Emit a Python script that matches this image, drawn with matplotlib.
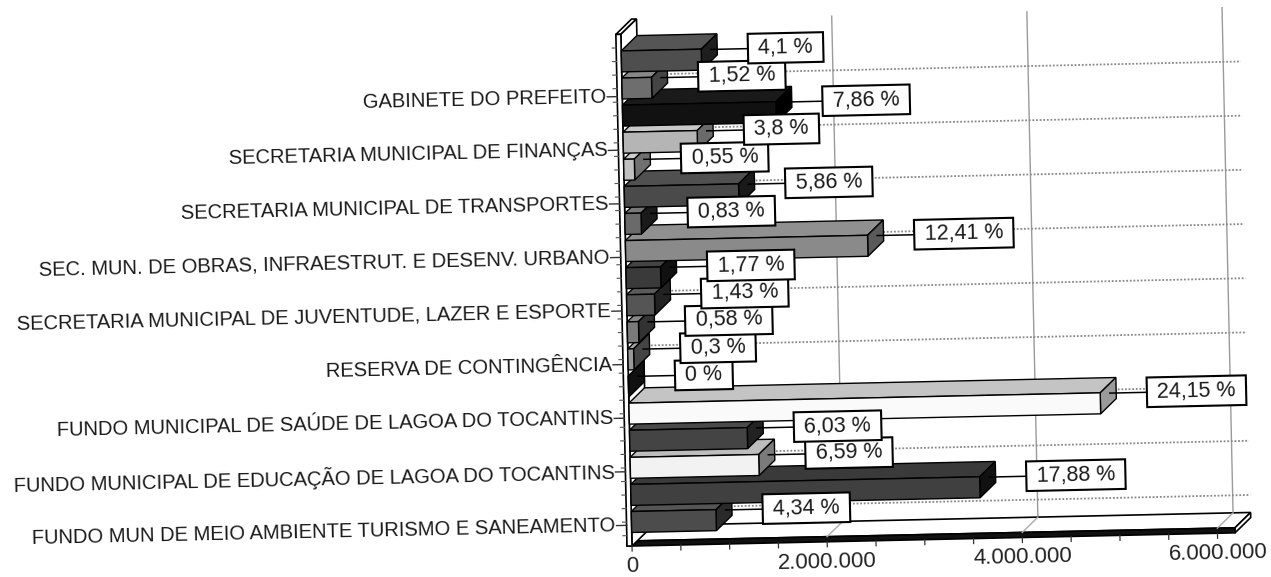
import numpy as np
import matplotlib.pyplot as plt
from matplotlib.patches import Polygon
from matplotlib.transforms import Affine2D

plt.rcParams['font.family'] = ['Liberation Sans', 'DejaVu Sans']

# bars listed top to bottom, as in the picture
pct_labels = ['4,1 %', '1,52 %', '7,86 %', '3,8 %', '0,55 %', '5,86 %',
              '0,83 %', '12,41 %', '1,77 %', '1,43 %', '0,58 %', '0,3 %',
              '0 %', '24,15 %', '6,03 %', '6,59 %', '17,88 %', '4,34 %']
values = [820000, 304000, 1572000, 760000, 110000, 1172000,
          166000, 2482000, 354000, 286000, 116000, 60000,
          0, 4830000, 1206000, 1318000, 3576000, 868000]

front_colors = ['#4e4e4e', '#6e6e6e', '#111111', '#b5b5b5', '#c0c0c0', '#4a4a4a',
                '#6a6a6a', '#8a8a8a', '#3a3a3a', '#555555', '#7a7a7a', '#999999',
                '#222222', '#fafafa', '#444444', '#f2f2f2', '#404040', '#4c4c4c']
top_colors = ['#555555', '#888888', '#1a1a1a', '#c8c8c8', '#d0d0d0', '#505050',
              '#777777', '#909090', '#444444', '#5a5a5a', '#888888', '#aaaaaa',
              '#333333', '#c4c4c4', '#4a4a4a', '#bdbdbd', '#3a3a3a', '#555555']
side_colors = ['#1e1e1e', '#444444', '#000000', '#6a6a6a', '#707070', '#1a1a1a',
               '#1a1a1a', '#5a5a5a', '#111111', '#222222', '#333333', '#444444',
               '#111111', '#9a9a9a', '#222222', '#7a7a7a', '#111111', '#2a2a2a']

# only every other category is labelled (top to bottom)
categories = ['GABINETE DO PREFEITO',
              'SECRETARIA MUNICIPAL DE FINANÇAS',
              'SECRETARIA MUNICIPAL DE TRANSPORTES',
              'SEC. MUN. DE OBRAS, INFRAESTRUT. E DESENV. URBANO',
              'SECRETARIA MUNICIPAL DE JUVENTUDE, LAZER E ESPORTE',
              'RESERVA DE CONTINGÊNCIA',
              'FUNDO MUNICIPAL DE SAÚDE DE LAGOA DO TOCANTINS',
              'FUNDO MUNICIPAL DE EDUCAÇÃO DE LAGOA DO TOCANTINS',
              'FUNDO MUN DE MEIO AMBIENTE TURISMO E SANEAMENTO']

xticks = [0, 2000000, 4000000, 6000000]
xtick_labels = ['0', '2.000.000', '4.000.000', '6.000.000']
xmax = 6180000

W, H = 1271, 577
fig = plt.figure(figsize=(W / 100, H / 100), dpi=100)
ax = fig.add_axes([0, 0, 1, 1])
ax.axis('off')

# pixel layout of the (unrotated) chart
x0px, sx = 632, 97.6e-6     # px of zero, px per unit
y0px, sy = 522, 27.1        # px of bottom bar centre, px per category
ax.set_xlim(-x0px / sx, (W - x0px) / sx)
ax.set_ylim((y0px - H) / sy, y0px / sy)

# the scanned page is slightly tilted
ang = 1.25
T = ax.transData + Affine2D().rotate_deg_around(x0px, H - 545, ang)

DX = 16 / sx      # depth of the 3d effect
DY = 15 / sy
bh = 0.775        # bar height
n = len(values)
ypos = [n - 1 - j for j in range(n)]

floor_top, floor_bot = -0.70, -0.886
wall_x = -5 / sx


def slab(x0, x1, y0, y1, fc, tc, sc, z, lw=1.0):
    front = [(x0, y0), (x1, y0), (x1, y1), (x0, y1)]
    top = [(x0, y1), (x1, y1), (x1 + DX, y1 + DY), (x0 + DX, y1 + DY)]
    side = [(x1, y0), (x1 + DX, y0 + DY), (x1 + DX, y1 + DY), (x1, y1)]
    for pts, c in ((top, tc), (side, sc), (front, fc)):
        ax.add_patch(Polygon(pts, closed=True, fc=c, ec='black', lw=lw,
                             transform=T, zorder=z, joinstyle='miter'))


# back wall grid
for v in xticks[1:]:
    ax.plot([v + DX, v + DX], [floor_top + DY, 18.5], color='#9a9a9a', lw=1,
            transform=T, zorder=0.5)
for k in range(9):
    yy = 2 * k + 0.5
    ax.plot([DX, xmax + DX], [yy, yy], color='#888888', lw=1.3,
            ls=(0, (1, 1)), transform=T, zorder=0.5)

# floor and left wall
slab(wall_x, xmax, floor_bot, floor_top, '#111111', 'white', 'white', 1, lw=1.2)
for v in xticks[1:]:
    ax.plot([v, v + DX], [floor_top, floor_top + DY], color='#aaaaaa', lw=1,
            transform=T, zorder=1.5)
slab(wall_x, 0, floor_bot, 18.0, 'white', 'white', 'white', 2, lw=1.2)

# floor ticks and value labels
for v in np.arange(0, 6000001, 500000):
    ax.plot([v, v], [floor_bot, floor_bot - 5 / sy], color='#333333', lw=0.9,
            transform=T, zorder=2)
for v, lab in zip(xticks, xtick_labels):
    ax.text(v, -1.64, lab, ha='center', va='center', fontsize=16,
            color='#222222', transform=T, rotation=ang, rotation_mode='anchor')

# wall ticks and category labels
for yy in np.arange(-0.5, 18.0, 0.5):
    ax.plot([wall_x - 4 / sx, wall_x], [yy, yy], color='#555555', lw=0.8,
            transform=T, zorder=2)
for k, name in enumerate(categories[::-1]):
    yy = 1.978 * k - 0.12
    ax.plot([wall_x - 10 / sx, wall_x], [yy, yy], color='#333333', lw=1,
            transform=T, zorder=2)
    ax.text(wall_x - 11 / sx, yy, name, ha='right', va='center', fontsize=14.5,
            color='#1a1a1a', transform=T, rotation=ang, rotation_mode='anchor')

# bars, drawn from the bottom up so upper fronts cover lower tops
for j in range(n - 1, -1, -1):
    y = ypos[j]
    v = values[j]
    z = 3 + 0.01 * y
    slab(0, v, y - bh / 2, y + bh / 2, front_colors[j], top_colors[j],
         side_colors[j], z)

# percentage boxes
for j in range(n - 1, -1, -1):
    y = ypos[j]
    v = values[j]
    ly = y + 0.37
    ax.plot([v + DX * 0.6, v + 47 / sx], [ly, ly], color='black', lw=1.1,
            transform=T, zorder=4)
    ax.text(v + 51 / sx, ly, ' ' + pct_labels[j] + ' ', ha='left', va='center',
            fontsize=15.5, color='#1a1a1a', transform=T, rotation=ang,
            rotation_mode='anchor', zorder=5 + 0.01 * y,
            bbox=dict(boxstyle='square,pad=0.2', fc='white', ec='black', lw=1.5))

fig.savefig('out.png', dpi=100)
